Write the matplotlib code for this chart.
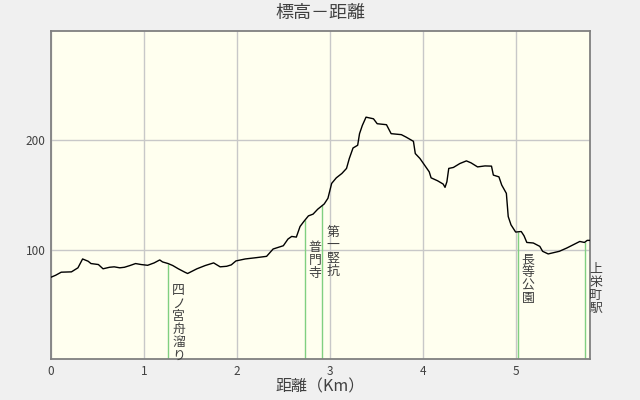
import numpy as np
import matplotlib
matplotlib.use('Agg')
import matplotlib.pyplot as plt

plt.rcParams['font.family'] = ['Noto Sans CJK JP', 'DejaVu Sans']

# distance (km) / elevation (m)
dist = [0.00, 0.05, 0.11, 0.22, 0.29, 0.34, 0.40, 0.43, 0.51, 0.56, 0.63, 0.68,
        0.74, 0.79, 0.85, 0.91, 0.97, 1.04, 1.11, 1.17, 1.20, 1.26, 1.31, 1.37,
        1.44, 1.47, 1.57, 1.66, 1.75, 1.82, 1.89, 1.94, 1.99, 2.09, 2.21, 2.32,
        2.39, 2.50, 2.55, 2.59, 2.64, 2.68, 2.72, 2.77, 2.82, 2.87, 2.94, 2.98,
        3.02, 3.07, 3.13, 3.18, 3.21, 3.25, 3.30, 3.32, 3.35, 3.39, 3.47, 3.51,
        3.61, 3.66, 3.77, 3.82, 3.90, 3.92, 3.97, 4.02, 4.07, 4.09, 4.16, 4.22,
        4.24, 4.26, 4.28, 4.33, 4.40, 4.47, 4.52, 4.59, 4.67, 4.74, 4.76, 4.82,
        4.85, 4.90, 4.92, 4.95, 5.00, 5.06, 5.09, 5.12, 5.19, 5.26, 5.29, 5.35,
        5.47, 5.55, 5.62, 5.69, 5.74, 5.77, 5.80]
elev = [74.8, 76.6, 79.4, 79.7, 83.4, 91.5, 89.4, 87.3, 86.4, 82.5, 83.9, 84.3,
        83.4, 83.9, 85.5, 87.3, 86.4, 85.7, 87.9, 90.6, 88.8, 87.3, 85.5, 82.5,
        79.4, 78.2, 82.5, 85.5, 87.9, 84.3, 84.8, 86.1, 89.7, 91.5, 92.7, 93.9,
        100.6, 103.6, 109.7, 112.1, 111.5, 121.2, 125.7, 130.9, 132.5, 137.0, 141.8, 147.0,
        160.6, 165.7, 169.7, 174.3, 183.4, 193.0, 195.5, 206.1, 213.6, 221.2, 219.7, 215.2,
        214.3, 206.1, 205.2, 203.0, 199.1, 187.9, 183.4, 177.3, 171.2, 165.7, 163.0, 160.0,
        157.0, 162.1, 174.3, 175.2, 178.8, 181.2, 179.4, 175.7, 176.6, 176.4, 168.2, 166.6,
        159.1, 151.5, 130.3, 122.7, 116.1, 116.6, 112.7, 106.6, 106.1, 103.0, 98.5, 96.1,
        98.5, 101.5, 104.5, 107.5, 106.6, 108.5, 108.5]

spots = ['四ノ宮舟溜り', '普門寺', '第一竪抗', '長等公園', '上栄町駅']
spot_dist = [1.26, 2.73, 2.92, 5.02, 5.75]

fig = plt.figure(figsize=(6.4, 4.0), dpi=100, facecolor='#f0f0f0')
ax = fig.add_axes([51 / 640, 1 - 359 / 400, 539 / 640, 328 / 400])
ax.set_facecolor('#ffffef')

ax.set_xlim(0, 5.8)
ax.set_ylim(0, 300)
ax.set_xticks([0, 1, 2, 3, 4, 5])
ax.set_yticks([100, 200])
ax.grid(True, color='#c8c8c8', linewidth=1.0)
ax.set_axisbelow(True)
ax.tick_params(length=0, labelsize=8.5, colors='#404040', pad=4)
for s in ax.spines.values():
    s.set_color('#808080')
    s.set_linewidth(1.3)

# landmark lines and vertical labels
spot_elev = np.interp(spot_dist, dist, elev)
for name, d, e in zip(spots, spot_dist, spot_elev):
    ax.vlines(d, 0, e, color='#80d080', linewidth=1.0, zorder=2)
    ax.annotate('\n'.join(name), xy=(d, e), xytext=(7.5, -15),
                textcoords='offset points', ha='center', va='top',
                fontsize=9.3, linespacing=1.0, color='#404040',
                annotation_clip=False, zorder=4)

ax.plot(dist, elev, color='black', linewidth=1.0, zorder=3)

fig.suptitle('標高－距離', y=0.99, fontsize=13, color='#404040')
ax.set_xlabel('距離（Km）', fontsize=11.5, color='#404040', labelpad=1)

fig.savefig('out.png', dpi=100, facecolor=fig.get_facecolor())
